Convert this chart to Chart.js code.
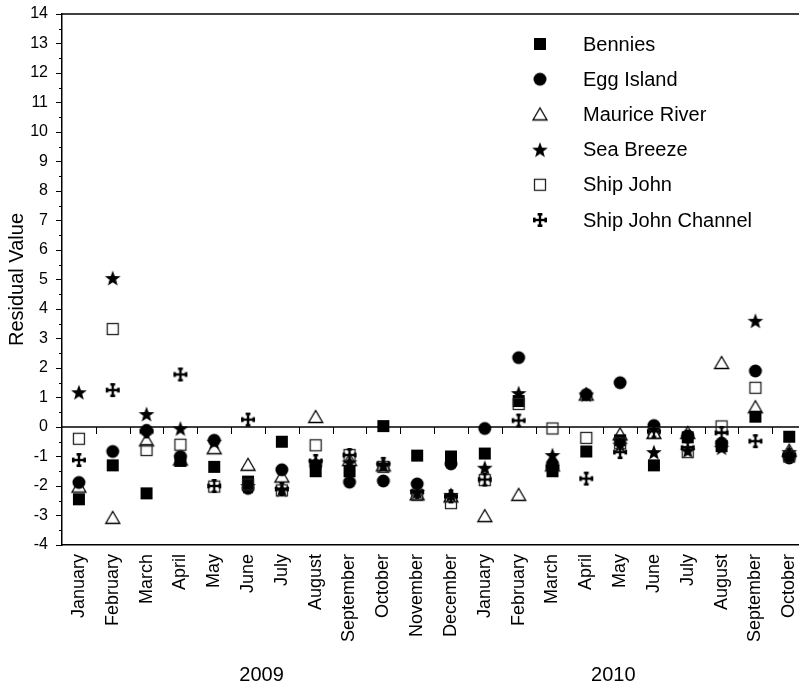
<!DOCTYPE html>
<html>
<head>
<meta charset="utf-8">
<script src="https://cdn.jsdelivr.net/npm/chart.js@4/dist/chart.umd.min.js"></script>
<style>
  html, body { margin: 0; padding: 0; background: #fff; overflow: hidden; }
  #wrap { width: 820px; height: 686px; }
</style>
</head>
<body>
<div id="wrap"><canvas id="chart" width="820" height="686"></canvas></div>
<script>
// Monthly residuals per site, Jan 2009 – Oct 2010
const months = ['January','February','March','April','May','June','July','August','September','October','November','December',
                'January','February','March','April','May','June','July','August','September','October'];
const years = ['2009', '2010'];
const yTicks = [-4,-3,-2,-1,0,1,2,3,4,5,6,7,8,9,10,11,12,13,14];

const bennies         = [-2.45,-1.30,-2.25,-1.15,-1.35,-1.85,-0.50,-1.50,-1.50, 0.03,-0.97,-1.00,-0.90, 0.88,-1.50,-0.83,-0.45,-1.30,-0.35,-0.65, 0.35,-0.33];
const eggIsland       = [-1.88,-0.83,-0.12,-1.00,-0.45,-2.08,-1.45,-1.30,-1.87,-1.83,-1.93,-1.25,-0.05, 2.35,-1.25, 1.10, 1.50, 0.05,-0.30,-0.55, 1.90,-1.05];
const mauriceRiver    = [-2.02,-3.08,-0.45,-1.10,-0.72,-1.28,-1.68, 0.34,-1.12,-1.30,-2.28,-2.35,-3.02,-2.30,-1.30, 1.10,-0.25,-0.20,-0.20, 2.17, 0.67,-0.80];
const seaBreeze       = [ 1.18, 5.05, 0.44,-0.05,-0.50,-2.00,-2.12,-1.20,-1.20,-1.30,-2.20,-2.30,-1.38, 1.15,-0.95, 1.10,-0.60,-0.85,-0.80,-0.70, 3.60,-0.85];
const shipJohn        = [-0.40, 3.32,-0.78,-0.60,-2.02,-1.95,-2.15,-0.62,-0.95,-1.35,-2.30,-2.58,-1.80, 0.78,-0.05,-0.37,-0.55,-0.20,-0.85, 0.02, 1.33,-1.00];
const shipJohnChannel = [-1.12, 1.25,-0.15, 1.78,-2.00, 0.25,-2.10,-1.15,-0.95,-1.25,-2.20,-2.35,-1.78, 0.22,-1.35,-1.75,-0.85,-0.15,-0.70,-0.20,-0.48,-0.95];

const FONT = '"Liberation Sans", Arial, Helvetica, sans-serif';

// ---- marker glyphs -------------------------------------------------------
function glyph(draw) {
  const cv = document.createElement('canvas');
  cv.width = 18; cv.height = 18;
  const g = cv.getContext('2d');
  g.translate(9, 9);
  draw(g);
  return cv;
}
const mkSquare = glyph(g => { g.fillStyle = '#000'; g.fillRect(-6, -6, 12, 12); });
const mkCircle = glyph(g => { g.fillStyle = '#000'; g.beginPath(); g.arc(0, 0, 6.5, 0, Math.PI * 2); g.fill(); });
const mkTriangle = glyph(g => {
  g.strokeStyle = '#000'; g.lineWidth = 1.3; g.lineJoin = 'miter';
  g.beginPath(); g.moveTo(0, -6.5); g.lineTo(7, 5.5); g.lineTo(-7, 5.5); g.closePath(); g.stroke();
});
const mkStar = glyph(g => {
  g.fillStyle = '#000'; g.beginPath();
  for (let i = 0; i < 10; i++) {
    const r = i % 2 === 0 ? 8.3 : 3.4;
    const a = -Math.PI / 2 + i * Math.PI / 5;
    const px = r * Math.cos(a), py = r * Math.sin(a) + 0.8;
    i === 0 ? g.moveTo(px, py) : g.lineTo(px, py);
  }
  g.closePath(); g.fill();
});
const mkOpenSquare = glyph(g => { g.strokeStyle = '#222'; g.lineWidth = 1.3; g.strokeRect(-5.5, -5.5, 11, 11); });
const mkCross = glyph(g => {
  g.fillStyle = '#000';
  g.fillRect(-1.2, -6, 2.4, 12);
  g.fillRect(-6, -1.2, 12, 2.4);
  g.fillRect(-2.4, -7, 4.8, 2.6);
  g.fillRect(-2.4, 4.4, 4.8, 2.6);
  g.fillRect(-7, -2.4, 2.6, 4.8);
  g.fillRect(4.4, -2.4, 2.6, 4.8);
});

const series = [
  { label: 'Bennies',           data: bennies,         style: mkSquare },
  { label: 'Egg Island',        data: eggIsland,       style: mkCircle },
  { label: 'Maurice River',     data: mauriceRiver,    style: mkTriangle },
  { label: 'Sea Breeze',        data: seaBreeze,       style: mkStar },
  { label: 'Ship John',         data: shipJohn,        style: mkOpenSquare },
  { label: 'Ship John Channel', data: shipJohnChannel, style: mkCross }
];

// ---- decorations ---------------------------------------------------------
const frame = {
  id: 'frame',
  beforeDatasetsDraw(chart) {
    const { ctx, chartArea: a, scales: { x, y } } = chart;
    ctx.save();
    ctx.strokeStyle = '#000';
    // top border
    ctx.lineWidth = 1.5;
    ctx.beginPath(); ctx.moveTo(a.left, a.top); ctx.lineTo(a.right, a.top); ctx.stroke();
    // zero line with month separators hanging below it
    const y0 = y.getPixelForValue(0);
    ctx.beginPath(); ctx.moveTo(a.left, y0); ctx.lineTo(a.right, y0); ctx.stroke();
    ctx.lineWidth = 1;
    ctx.beginPath();
    for (let i = 0; i < months.length - 1; i++) {
      const xb = Math.round((x.getPixelForValue(i) + x.getPixelForValue(i + 1)) / 2) + 0.5;
      ctx.moveTo(xb, y0); ctx.lineTo(xb, y0 + 7);
    }
    ctx.stroke();
    // minor ticks on the value axis
    ctx.beginPath();
    for (let k = 0; k < yTicks.length - 1; k++) {
      const yy = Math.round(y.getPixelForValue(yTicks[k] + 0.5)) + 0.5;
      ctx.moveTo(a.left - 3, yy); ctx.lineTo(a.left, yy);
    }
    ctx.stroke();
    ctx.restore();
  },
  afterDraw(chart) {
    const { ctx, scales: { x } } = chart;
    ctx.save();
    ctx.fillStyle = '#000';
    ctx.font = '20px ' + FONT;
    ctx.textAlign = 'center';
    ctx.textBaseline = 'middle';
    ctx.fillText(years[0], x.getPixelForValue(5.4), 675);
    ctx.fillText(years[1], x.getPixelForValue(15.8), 675);
    // key
    ctx.textAlign = 'left';
    chart.data.datasets.forEach((ds, i) => {
      const yy = 44 + i * 35.2;
      ctx.drawImage(ds.pointStyle, 540 - 9, yy - 9);
      ctx.fillText(ds.label, 583, yy + 1);
    });
    ctx.restore();
  }
};

new Chart(document.getElementById('chart'), {
  type: 'line',
  data: {
    labels: months,
    datasets: series.map((s, i) => ({
      label: s.label,
      data: s.data,
      showLine: false,
      pointStyle: s.style,
      pointRadius: 7,
      pointHoverRadius: 7,
      order: series.length - i
    }))
  },
  options: {
    responsive: false,
    animation: false,
    events: [],
    layout: { padding: { top: 14, right: 0, left: 0, bottom: 0 } },
    plugins: { legend: { display: false }, tooltip: { enabled: false } },
    scales: {
      x: {
        type: 'category',
        offset: true,
        grid: { display: true, drawOnChartArea: false, drawTicks: false },
        border: { display: true, color: '#000', width: 1.5 },
        ticks: {
          color: '#000', font: { family: FONT, size: 18 },
          autoSkip: false, minRotation: 90, maxRotation: 90, padding: 9
        },
        afterFit(scale) { scale.height = 141; }
      },
      y: {
        min: -4, max: 14,
        afterBuildTicks(scale) { scale.ticks = yTicks.map(v => ({ value: v })); },
        grid: { display: true, drawOnChartArea: false, drawTicks: true, tickLength: 6, tickColor: '#000', tickWidth: 1 },
        border: { display: true, color: '#000', width: 1.5 },
        ticks: { color: '#000', font: { family: FONT, size: 16 }, padding: 8 },
        title: { display: true, text: 'Residual Value', color: '#000', font: { family: FONT, size: 20 }, padding: { top: 5, bottom: 0 } },
        afterFit(scale) { scale.width = 62; scale.paddingTop = 0; scale.paddingBottom = 0; }
      }
    }
  },
  plugins: [frame]
});
</script>
</body>
</html>
